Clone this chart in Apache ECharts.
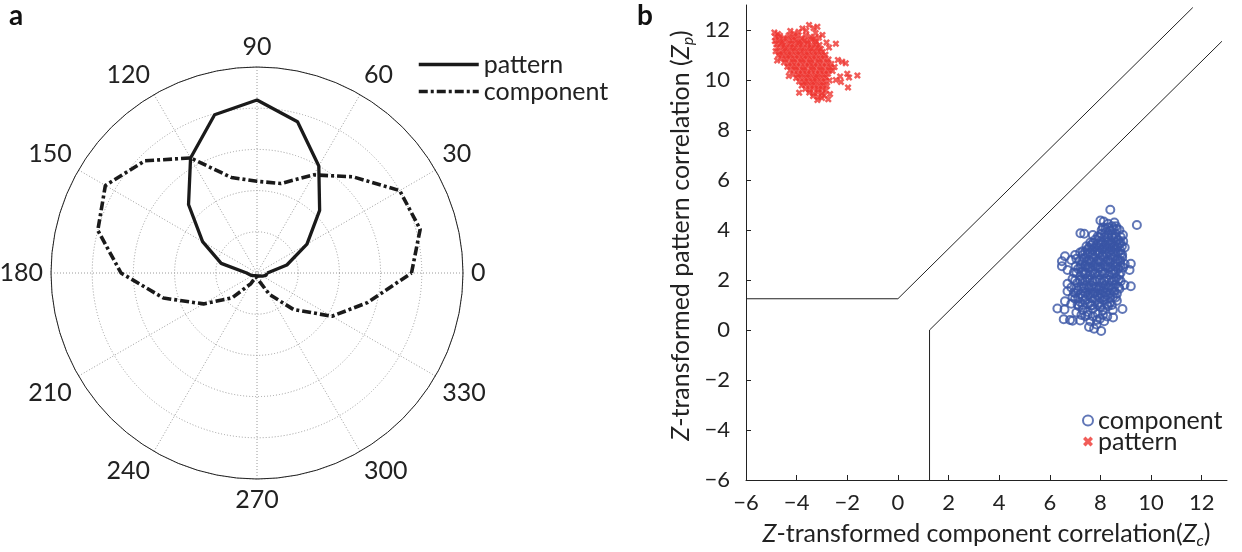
<!DOCTYPE html>
<html>
<head>
<meta charset="utf-8">
<script src="https://cdn.jsdelivr.net/npm/echarts@6/dist/echarts.min.js"></script>
<style>
  html, body { margin: 0; padding: 0; background: #fff; }
  #chart { width: 1242px; height: 552px; }
</style>
</head>
<body>
<div id="chart"></div>
<script>
// panel a: tuning curves, angle in degrees, radius normalised
const angles = [0, 15, 30, 45, 60, 75, 90, 105, 120, 135, 150, 165, 180,
  195, 210, 225, 240, 255, 270, 285, 300, 315, 330, 345, 360];
const patternR = [0.05, 0.15, 0.28, 0.43, 0.60, 0.76, 0.84, 0.795, 0.645, 0.47, 0.305, 0.18, 0.05,
  0.035, 0.025, 0.02, 0.015, 0.015, 0.015, 0.015, 0.015, 0.02, 0.03, 0.045, 0.05];
const componentR = [0.75, 0.82, 0.80, 0.66, 0.55, 0.45, 0.445, 0.48, 0.645, 0.77, 0.85, 0.80, 0.66,
  0.47, 0.30, 0.17, 0.06, 0.02, 0.02, 0.04, 0.12, 0.25, 0.42, 0.555, 0.75];

// panel b: Z-transformed correlations (Zc, Zp)
const componentPts = [
  [7.55,0.12],[7.75,0.05],[7.85,0.22],[8.03,-0.04],[7.6,0.35],[7.2,0.38],[6.9,0.37],[6.55,0.43],[8.27,0.54],[7.98,0.45],[7.4,0.55],[8.5,0.5],
  [7.25,0.6],[7.5,0.6],[7.7,0.55],[8.1,0.6],[7.85,0.4],[8.15,0.35],
  [6.3,0.86],[6.58,0.82],[6.8,0.4],[7.05,0.7],[7.3,0.8],[7.5,0.72],[7.7,0.85],[7.9,0.65],[8.1,0.78],[8.49,0.8],[8.87,0.84],[7.15,0.95],[7.62,0.98],[8.0,0.92],[8.3,0.95],
  [7.1,1.02],[7.3,1.0],[7.5,1.03],[7.68,0.98],[7.88,1.02],[8.05,1.0],[8.25,1.03],[8.45,1.0],
  [6.6,1.15],[6.85,1.05],[7.0,1.25],[7.2,1.12],[7.4,1.2],[7.58,1.08],[7.78,1.25],[7.95,1.1],[8.15,1.2],[8.38,1.1],[8.65,1.17],[7.3,1.35],[7.5,1.4],[7.7,1.45],[7.88,1.38],[8.05,1.42],[8.25,1.4],[8.5,1.32],
  [6.9,1.32],[7.12,1.3],[7.62,1.3],[7.98,1.28],[8.15,1.33],[8.38,1.27],[8.6,1.3],
  [7.02,1.47],[7.22,1.45],[7.42,1.48],[7.6,1.46],[7.8,1.48],[8.0,1.46],[8.2,1.5],[8.4,1.47],[8.65,1.45],
  [6.7,1.55],[6.95,1.5],[7.12,1.6],[7.35,1.55],[7.55,1.62],[7.72,1.5],[7.92,1.6],[8.1,1.55],[8.3,1.62],[8.55,1.55],[8.75,1.65],[7.25,1.75],[7.45,1.8],[7.65,1.78],[7.82,1.72],[8.0,1.75],[8.2,1.8],[8.4,1.78],[8.6,1.82],
  [6.85,1.7],[7.05,1.68],[7.35,1.68],[7.55,1.7],[7.75,1.66],[7.95,1.68],[8.15,1.68],[8.35,1.7],[8.52,1.68],[8.72,1.72],
  [6.7,1.85],[6.9,2.05],[7.08,1.88],[7.3,1.95],[7.48,2.05],[7.68,1.92],[7.85,2.02],[8.05,1.9],[8.22,2.05],[8.45,1.95],[8.62,2.08],[8.95,1.8],[9.2,1.75],[8.8,1.95],[7.2,2.15],[7.4,2.22],[7.6,2.18],[7.78,2.25],[7.95,2.2],[8.15,2.25],[8.35,2.2],[8.55,2.25],[8.75,2.2],
  [7.0,1.98],[7.2,2.0],[7.4,1.97],[7.58,2.0],[7.78,1.97],[7.98,2.0],[8.15,1.97],[8.35,2.0],[8.55,1.98],[8.72,2.02],
  [7.05,2.28],[7.25,2.3],[7.42,2.28],[7.6,2.3],[7.8,2.28],[8.0,2.3],[8.18,2.28],[8.4,2.3],[8.6,2.32],[8.8,2.3],
  [6.48,2.55],[6.7,2.4],[6.95,2.3],[7.12,2.45],[7.32,2.35],[7.5,2.5],[7.7,2.38],[7.9,2.48],[8.08,2.35],[8.28,2.48],[8.5,2.38],[8.7,2.45],[8.9,2.5],[9.15,2.4],[7.25,2.62],[7.42,2.62],[7.62,2.68],[7.8,2.65],[8.0,2.7],[8.18,2.62],[8.38,2.68],[8.58,2.65],[8.78,2.68],
  [7.02,2.55],[7.22,2.52],[7.4,2.55],[7.6,2.52],[7.8,2.55],[8.0,2.52],[8.2,2.55],[8.4,2.52],[8.6,2.55],[8.8,2.55],
  [6.48,2.75],[6.6,2.95],[6.85,2.8],[7.05,2.85],[7.18,2.78],[7.35,2.88],[7.55,2.8],[7.72,2.9],[7.92,2.78],[8.1,2.92],[8.3,2.8],[8.48,2.9],[8.68,2.82],[8.86,2.9],[9.2,2.65],[7.3,3.0],[7.5,3.05],[7.7,3.02],[7.9,3.08],[8.08,3.0],[8.25,3.05],[8.42,3.0],[8.6,3.1],[8.8,3.05],
  [7.28,2.75],[7.45,2.72],[7.65,2.75],[7.85,2.72],[8.02,2.78],[8.2,2.72],[8.4,2.75],[8.6,2.72],[8.78,2.78],
  [7.0,3.0],[7.3,3.15],[7.5,3.22],[7.68,3.2],[7.88,3.18],[8.08,3.22],[8.25,3.25],[8.42,3.2],[8.6,3.25],[8.78,3.18],[8.96,3.3],[7.45,3.35],[7.65,3.4],[7.85,3.38],[8.02,3.42],[8.2,3.4],[8.38,3.42],[8.55,3.35],[8.75,3.45],
  [7.2,3.1],[7.4,3.12],[7.6,3.1],[7.8,3.12],[7.98,3.1],[8.18,3.12],[8.35,3.1],[8.52,3.12],[8.7,3.1],
  [7.55,3.3],[7.75,3.28],[7.95,3.3],[8.12,3.3],[8.32,3.32],[8.5,3.3],[8.68,3.32],[8.85,3.35],
  [7.6,3.5],[7.8,3.62],[8.0,3.55],[8.15,3.7],[8.35,3.58],[8.52,3.68],[8.7,3.6],[8.9,3.55],[7.36,3.85],[7.21,3.87],[7.7,3.8],[7.9,3.75],[8.05,3.85],[8.2,3.9],[8.3,3.82],[8.45,3.8],[8.6,3.85],
  [7.7,3.48],[7.9,3.46],[8.08,3.48],[8.25,3.5],[8.45,3.48],[8.62,3.5],[8.8,3.48],
  [7.95,3.7],[8.3,3.7],[8.45,3.72],[8.62,3.7],[8.8,3.72],[8.05,4.0],[8.28,4.1],[8.65,4.05],
  [8.0,4.38],[8.13,4.34],[8.46,4.15],[8.62,4.15],[8.75,4.0],[8.89,3.8],[8.2,4.05],[8.4,3.98],[8.86,3.01],[8.96,2.64],[8.39,4.81],[9.44,4.2],[8.55,4.3],[8.3,4.25],[8.1,4.1],[8.52,4.05]
];
const patternPts = [
  [-3.51,12.2],[-3.33,12.08],[-3.18,12.13],[-3.77,12.06],[-3.62,11.98],[-4.88,11.9],[-4.74,11.84],[-4.25,11.96],[-4.1,11.86],[-3.92,11.93],[-2.98,11.8],[-3.25,11.88],
  [-4.83,11.72],[-4.66,11.77],[-4.5,11.69],[-4.31,11.78],[-4.15,11.71],[-3.97,11.77],[-3.8,11.68],[-3.64,11.79],[-3.46,11.73],[-3.3,11.66],[-3.12,11.7],
  [-4.86,11.56],[-4.7,11.62],[-4.55,11.54],[-4.38,11.63],[-4.2,11.57],[-4.04,11.61],[-3.87,11.53],[-3.7,11.6],[-3.55,11.55],[-3.38,11.62],[-3.22,11.52],
  [-4.8,11.43],[-4.63,11.47],[-4.47,11.4],[-4.29,11.46],[-4.12,11.41],[-3.95,11.48],[-3.78,11.42],[-3.6,11.47],[-3.44,11.39],[-3.27,11.44],[-3.1,11.4],[-2.45,11.45],[-2.82,11.5],
  [-4.76,11.29],[-4.58,11.33],[-4.41,11.26],[-4.24,11.32],[-4.07,11.27],[-3.9,11.33],[-3.72,11.26],[-3.56,11.31],[-3.39,11.25],[-3.21,11.3],[-3.04,11.24],[-2.72,11.3],
  [-4.83,11.15],[-4.67,11.1],[-4.5,11.17],[-4.33,11.11],[-4.16,11.18],[-3.99,11.12],[-3.82,11.17],[-3.65,11.1],[-3.48,11.16],[-3.31,11.11],[-3.14,11.17],[-2.97,11.12],
  [-4.72,10.99],[-4.56,11.03],[-4.39,10.96],[-4.22,11.02],[-4.05,10.97],[-3.88,11.03],[-3.71,10.96],[-3.54,11.01],[-3.37,10.95],[-3.2,11.02],[-3.03,10.97],[-2.86,11.01],
  [-4.77,10.78],[-4.6,10.86],[-4.44,10.83],[-4.27,10.88],[-4.1,10.82],[-3.93,10.87],[-3.76,10.81],[-3.59,10.86],[-3.42,10.8],[-3.25,10.86],[-3.08,10.81],[-2.91,10.87],[-2.74,10.82],[-2.37,10.8],[-2.2,10.73],[-2.06,10.67],
  [-4.5,10.7],[-4.33,10.66],[-4.16,10.72],[-3.99,10.67],[-3.82,10.73],[-3.65,10.66],[-3.48,10.71],[-3.31,10.65],[-3.14,10.72],[-2.97,10.66],[-2.8,10.71],[-2.63,10.64],
  [-4.37,10.53],[-4.2,10.57],[-4.03,10.51],[-3.86,10.56],[-3.69,10.5],[-3.52,10.57],[-3.35,10.51],[-3.18,10.56],[-3.01,10.5],[-2.84,10.55],[-2.67,10.5],[-2.5,10.52],
  [-4.26,10.38],[-4.09,10.42],[-3.92,10.36],[-3.75,10.41],[-3.58,10.35],[-3.41,10.42],[-3.24,10.36],[-3.07,10.41],[-2.9,10.35],[-2.73,10.4],[-2.58,10.36],
  [-4.31,10.16],[-4.12,10.24],[-3.95,10.2],[-3.78,10.26],[-3.61,10.21],[-3.44,10.27],[-3.27,10.2],[-3.1,10.26],[-2.93,10.21],[-2.76,10.25],[-2.0,10.25],
  [-4.02,10.08],[-3.85,10.12],[-3.68,10.06],[-3.51,10.11],[-3.34,10.05],[-3.17,10.12],[-3.0,10.06],[-2.83,10.1],[-2.28,10.14],[-1.93,10.1],[-1.6,10.18],[-2.45,10.0],
  [-3.9,9.94],[-3.73,9.9],[-3.56,9.96],[-3.39,9.91],[-3.22,9.97],[-3.05,9.9],[-2.88,9.95],[-2.25,9.92],[-2.7,9.98],
  [-3.8,9.78],[-3.63,9.82],[-3.46,9.76],[-3.29,9.81],[-3.12,9.75],[-2.95,9.8],[-2.8,9.76],
  [-3.66,9.64],[-3.49,9.6],[-3.32,9.66],[-3.15,9.61],[-2.98,9.65],[-1.97,9.7],[-2.85,9.58],
  [-3.9,9.49],[-3.5,9.5],[-3.33,9.46],[-3.16,9.51],[-2.99,9.47],
  [-3.35,9.36],[-3.15,9.32],[-2.68,9.44],[-2.92,9.38],
  [-3.18,9.2],[-2.75,9.23],[-3.0,9.28]
];
// decision boundaries
const boundaryUpper = [[-6, 1.25], [0, 1.25], [11.65, 12.9]];
const boundaryLower = [[1.25, -6], [1.25, 0], [12.8, 11.55]];

const FONT = 'Lato';
const INK = '#222';
const BLUE = '#3a55a5';
const RED = '#ee3430';
const dotted = { color: '#9a9a9a', type: [1, 2], width: 1 };
const minus = v => (v < 0 ? '\u2212' + (-v) : String(v));
const nameStyle = {
  fontFamily: FONT, fontSize: 25, color: INK, lineHeight: 30,
  rich: {
    i: { fontFamily: FONT, fontSize: 25, fontStyle: 'italic', color: INK, lineHeight: 30 },
    s: { fontFamily: FONT, fontSize: 16, fontStyle: 'italic', color: INK, lineHeight: 16, verticalAlign: 'bottom' }
  }
};

let myChart = echarts.init(document.getElementById('chart'));
myChart.setOption({
  animation: false,
  graphic: [
    { type: 'text', left: 9, top: 2, style: { text: 'a', font: 'bold 28px Lato', fill: '#111' } },
    { type: 'text', left: 637, top: 2, style: { text: 'b', font: 'bold 28px Lato', fill: '#111' } }
  ],
  legend: [
    {
      data: ['pattern', 'component'],
      orient: 'vertical', left: 417, top: 51, padding: 0,
      itemWidth: 60, itemHeight: 14, itemGap: 0, selectedMode: false,
      itemStyle: { color: 'rgba(0,0,0,0)', borderWidth: 0 },
      lineStyle: { width: 3.5 },
      textStyle: { fontFamily: FONT, fontSize: 25, lineHeight: 27, color: INK }
    },
    {
      data: ['component_b', 'pattern_b'],
      formatter: n => n.replace('_b', ''),
      orient: 'vertical', left: 1082, top: 408, padding: 0,
      itemWidth: 10, itemHeight: 10, itemGap: -4, selectedMode: false,
      textStyle: { fontFamily: FONT, fontSize: 25, lineHeight: 21, color: INK }
    }
  ],
  polar: { center: [257, 273], radius: 206 },
  angleAxis: {
    type: 'value', min: 0, max: 360, interval: 30,
    startAngle: 0, clockwise: false,
    axisLine: { lineStyle: { color: INK, width: 1 } },
    axisTick: { show: false },
    axisLabel: {
      margin: 8, fontFamily: FONT, fontSize: 25, color: INK,
      formatter: v => (v === 360 ? '' : String(v))
    },
    splitLine: { show: true, lineStyle: dotted }
  },
  radiusAxis: {
    min: 0, max: 1, interval: 0.2,
    axisLine: { show: false }, axisTick: { show: false }, axisLabel: { show: false },
    splitLine: { show: true, lineStyle: dotted }
  },
  grid: { left: 746, top: 5, width: 481, height: 475, outerBoundsMode: 'none' },
  xAxis: {
    type: 'value', min: -6, max: 13, interval: 2,
    axisLine: { onZero: false, lineStyle: { color: INK, width: 1 } },
    axisTick: { inside: true, length: 5, lineStyle: { color: INK } },
    splitLine: { show: false },
    axisLabel: { margin: 12, fontFamily: FONT, fontSize: 22, color: INK, formatter: minus, showMaxLabel: false },
    name: '{i|Z}-transformed component correlation({i|Z}{s|c})',
    nameLocation: 'middle', nameGap: 34,
    nameTextStyle: nameStyle
  },
  yAxis: {
    type: 'value', min: -6, max: 13, interval: 2,
    axisLine: { onZero: false, lineStyle: { color: INK, width: 1 } },
    axisTick: { inside: true, length: 5, lineStyle: { color: INK } },
    splitLine: { show: false },
    axisLabel: { margin: 16, fontFamily: FONT, fontSize: 22, color: INK, formatter: minus, showMaxLabel: false },
    name: '{i|Z}-transformed pattern correlation ({i|Z}{s|p})',
    nameLocation: 'middle', nameGap: 50,
    nameTextStyle: Object.assign({}, nameStyle, { padding: [0, 0, 0, 14] })
  },
  series: [
    {
      name: 'pattern', type: 'line', coordinateSystem: 'polar',
      symbol: 'none', smooth: false,
      lineStyle: { color: '#1a1a1a', width: 3.3 },
      data: angles.map((a, i) => [patternR[i], a])
    },
    {
      name: 'component', type: 'line', coordinateSystem: 'polar',
      symbol: 'none', smooth: false,
      lineStyle: { color: '#1a1a1a', width: 3.6, type: [9, 3, 3, 3] },
      data: angles.map((a, i) => [componentR[i], a])
    },
    {
      name: 'upper', type: 'line', symbol: 'none',
      lineStyle: { color: INK, width: 1 }, data: boundaryUpper
    },
    {
      name: 'lower', type: 'line', symbol: 'none',
      lineStyle: { color: INK, width: 1 }, data: boundaryLower
    },
    {
      name: 'component_b', type: 'scatter', symbol: 'circle', symbolSize: 8,
      itemStyle: { color: 'rgba(0,0,0,0)', borderColor: BLUE, borderWidth: 2 },
      data: componentPts
    },
    {
      name: 'pattern_b', type: 'scatter', symbolSize: 7,
      symbol: 'path://M0,2.5L2.5,0L5,2.5L7.5,0L10,2.5L7.5,5L10,7.5L7.5,10L5,7.5L2.5,10L0,7.5L2.5,5Z',
      itemStyle: { color: RED },
      data: patternPts
    }
  ]
});
window.addEventListener('resize', function () {
  myChart.resize();
});
</script>
</body>
</html>
